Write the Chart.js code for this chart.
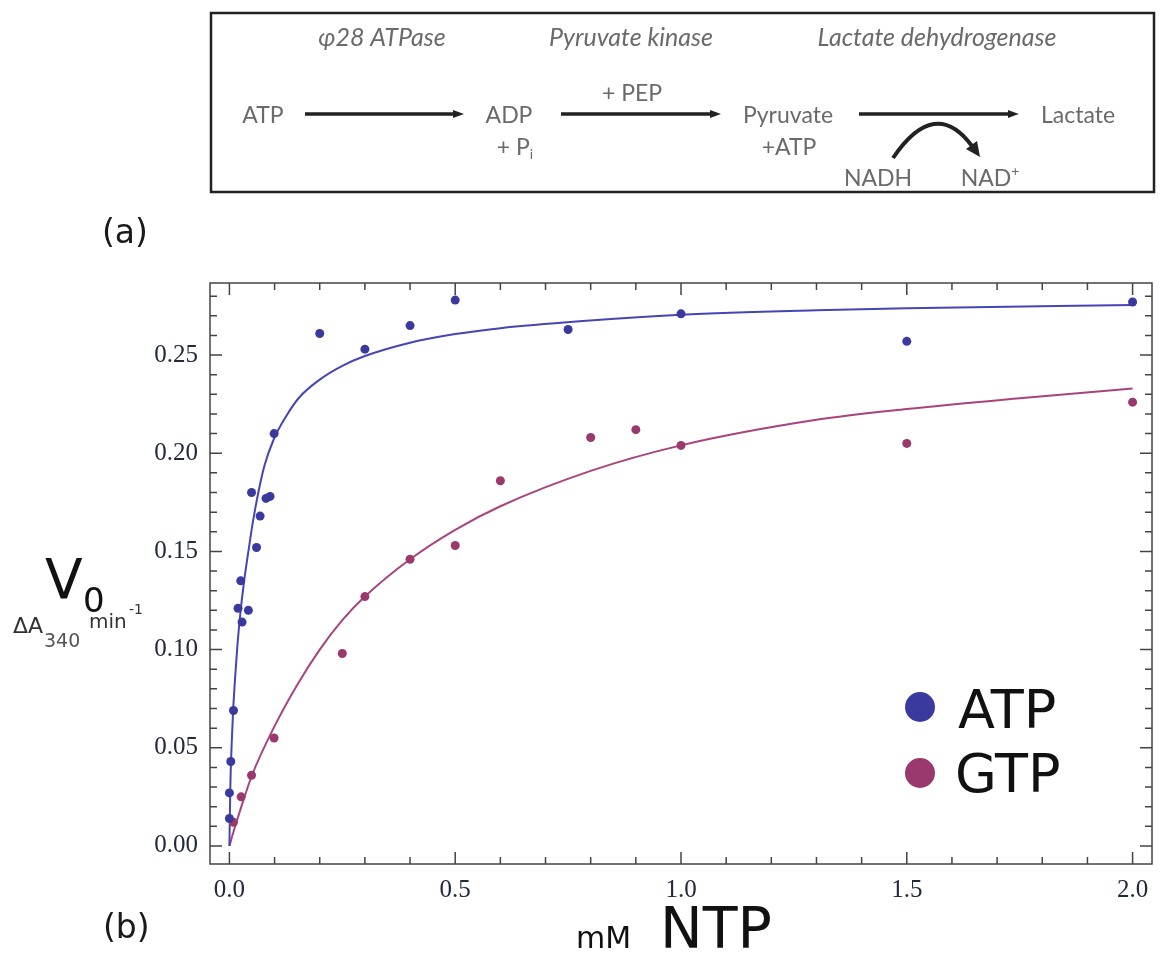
<!DOCTYPE html>
<html>
<head>
<meta charset="utf-8">
<script src="https://cdn.jsdelivr.net/npm/chart.js@4.4.0/dist/chart.umd.min.js"></script>
<style>
  html, body { margin: 0; padding: 0; background: #fff; }
  #wrap { position: relative; width: 1170px; height: 958px; overflow: hidden; }
  #kinetics { position: absolute; left: 0; top: 0; }
  #overlay { position: absolute; left: 0; top: 0; pointer-events: none; }
  .pathway text { font-family: Lato, "Open Sans", sans-serif; font-size: 23px; fill: #6a6a6a; }
  .pathway .enz { font-style: italic; font-size: 25px; }
  .lbl { font-family: "DejaVu Sans", sans-serif; fill: #1a1a1a; }
</style>
</head>
<body>
<div id="wrap">
  <canvas id="kinetics" width="1170" height="958"></canvas>
  <svg id="overlay" width="1170" height="958" xmlns="http://www.w3.org/2000/svg">
    <!-- (a) coupled assay scheme -->
    <g class="pathway">
      <rect x="211" y="13" width="943" height="179" fill="none" stroke="#222" stroke-width="2.5"/>
      <text class="enz" x="382" y="46" text-anchor="middle">φ28 ATPase</text>
      <text class="enz" x="631" y="46" text-anchor="middle">Pyruvate kinase</text>
      <text class="enz" x="937" y="46" text-anchor="middle">Lactate dehydrogenase</text>
      <text x="263" y="123" text-anchor="middle">ATP</text>
      <text x="509" y="123" text-anchor="middle">ADP</text>
      <text x="515" y="155" text-anchor="middle">+ P<tspan font-size="14" dy="4">i</tspan></text>
      <text x="632" y="101" text-anchor="middle">+ PEP</text>
      <text x="788" y="123" text-anchor="middle">Pyruvate</text>
      <text x="789" y="155" text-anchor="middle">+ATP</text>
      <text x="1078" y="123" text-anchor="middle">Lactate</text>
      <text x="878" y="186" text-anchor="middle">NADH</text>
      <text x="990" y="186" text-anchor="middle">NAD<tspan font-size="14" dy="-10">+</tspan></text>
      <g stroke="#222" stroke-width="3.5" fill="#222">
        <line x1="305" y1="114" x2="456" y2="114"/>
        <polygon points="464,114 453,110 453,118" stroke="none"/>
        <line x1="561" y1="114" x2="713" y2="114"/>
        <polygon points="721,114 710,110 710,118" stroke="none"/>
        <line x1="859" y1="114" x2="1011" y2="114"/>
        <polygon points="1019,114 1008,110 1008,118" stroke="none"/>
        <path d="M 893 158 Q 935 96 972 146" fill="none" stroke-width="4"/>
        <polygon points="980,157 966,149 977,141" stroke="none"/>
      </g>
    </g>
    <text class="lbl" x="102" y="243" font-size="33">(a)</text>
    <text class="lbl" x="103" y="938" font-size="33">(b)</text>
    <!-- axis titles -->
    <g class="lbl">
      <text x="45" y="598" font-size="55" fill="#111">V</text>
      <text x="83" y="612" font-size="34" fill="#111">0</text>
      <text x="13" y="633" font-size="22" fill="#333">ΔA</text>
      <text x="44" y="647" font-size="19" fill="#555">340</text>
      <text x="89" y="628" font-size="20" fill="#333">min</text>
      <text x="129" y="614" font-size="14" fill="#333">-1</text>
      <text x="576" y="948" font-size="30" fill="#111">mM</text>
      <text x="660" y="948" font-size="57" fill="#111">NTP</text>
    </g>
    <g id="legend"></g>
  </svg>
</div>
<script>
// measured points, mM NTP vs initial rate
const atpConc = [0, 0, 0.003, 0.009, 0.019, 0.025, 0.028, 0.042, 0.049, 0.06, 0.068, 0.081, 0.09, 0.099,
                 0.2, 0.3, 0.4, 0.5, 0.75, 1.0, 1.5, 2.0];
const atpRate = [0.014, 0.027, 0.043, 0.069, 0.121, 0.135, 0.114, 0.120, 0.180, 0.152, 0.168, 0.177, 0.178, 0.210,
                 0.261, 0.253, 0.265, 0.278, 0.263, 0.271, 0.257, 0.277];

const gtpConc = [0.009, 0.026, 0.049, 0.099, 0.25, 0.3, 0.4, 0.5, 0.6, 0.8, 0.9, 1.0, 1.5, 2.0];
const gtpRate = [0.012, 0.025, 0.036, 0.055, 0.098, 0.127, 0.146, 0.153, 0.186, 0.208, 0.212, 0.204, 0.205, 0.226];

// fitted curves
const atpFitConc = [0, 0.002, 0.005, 0.008, 0.013, 0.018, 0.024, 0.032, 0.042, 0.052, 0.064, 0.078, 0.098,
                    0.126, 0.155, 0.2, 0.25, 0.3, 0.4, 0.5, 0.6, 0.775, 1.0, 1.3, 1.5, 2.0];
const atpFitRate = [0, 0.030, 0.052, 0.068, 0.087, 0.103, 0.118, 0.134, 0.150, 0.165, 0.180, 0.194, 0.207,
                    0.219, 0.2285, 0.2375, 0.2445, 0.2495, 0.2563, 0.2607, 0.2637, 0.2672, 0.2705, 0.2728, 0.2738, 0.2755];

const gtpFitConc = [0, 0.01, 0.025, 0.05, 0.1, 0.15, 0.2, 0.25, 0.3, 0.4, 0.5, 0.6, 0.8, 1.0, 1.3, 1.5, 1.75, 2.0];
const gtpFitRate = [0, 0.008, 0.019, 0.036, 0.061, 0.082, 0.100, 0.115, 0.127, 0.146, 0.161, 0.173, 0.191,
                    0.204, 0.217, 0.2225, 0.228, 0.233];

const xTicks = [0, 0.5, 1.0, 1.5, 2.0];
const yTicks = [0, 0.05, 0.10, 0.15, 0.20, 0.25];

const seriesNames = ['ATP', 'GTP'];
const dotColors = ['#3a3a9e', '#9a396c'];
const lineColors = ['#4545b5', '#a8437e'];

const toXY = (xs, ys) => xs.map((v, i) => ({ x: v, y: ys[i] }));

// box round the plot with inward ticks on all four sides
const frameTicks = {
  id: 'frameTicks',
  afterDatasetsDraw(chart) {
    const { ctx, chartArea: a, scales: { x, y } } = chart;
    ctx.save();
    ctx.strokeStyle = '#444';
    ctx.lineWidth = 1.5;
    ctx.strokeRect(a.left, a.top, a.right - a.left, a.bottom - a.top);
    ctx.beginPath();
    for (let i = 0; i <= 20; i++) {
      const px = x.getPixelForValue(i / 10);
      const len = i % 5 === 0 ? 12 : 7;
      ctx.moveTo(px, a.bottom); ctx.lineTo(px, a.bottom - len);
      ctx.moveTo(px, a.top); ctx.lineTo(px, a.top + len);
    }
    for (let i = 0; i <= 28; i++) {
      const py = y.getPixelForValue(i / 100);
      const len = i % 5 === 0 ? 12 : 7;
      ctx.moveTo(a.left, py); ctx.lineTo(a.left + len, py);
      ctx.moveTo(a.right, py); ctx.lineTo(a.right - len, py);
    }
    ctx.stroke();
    ctx.restore();
  }
};

const tickFont = { family: '"Liberation Serif", "Times New Roman", serif', size: 25 };

const chart = new Chart(document.getElementById('kinetics'), {
  type: 'scatter',
  data: {
    datasets: [
      { label: seriesNames[0], data: toXY(atpConc, atpRate), backgroundColor: dotColors[0],
        borderWidth: 0, pointRadius: 4.5, order: 1 },
      { label: seriesNames[1], data: toXY(gtpConc, gtpRate), backgroundColor: dotColors[1],
        borderWidth: 0, pointRadius: 4.5, order: 2 },
      { label: 'ATP fit', data: toXY(atpFitConc, atpFitRate), showLine: true, pointRadius: 0,
        borderColor: lineColors[0], borderWidth: 2, cubicInterpolationMode: 'monotone', order: 3 },
      { label: 'GTP fit', data: toXY(gtpFitConc, gtpFitRate), showLine: true, pointRadius: 0,
        borderColor: lineColors[1], borderWidth: 2, cubicInterpolationMode: 'monotone', order: 4 }
    ]
  },
  options: {
    responsive: false,
    animation: false,
    events: [],
    layout: { padding: { left: 150, right: 18, top: 283, bottom: 54 } },
    plugins: { legend: { display: false }, tooltip: { enabled: false } },
    scales: {
      x: {
        type: 'linear', min: -0.043, max: 2.043,
        grid: { display: false, drawTicks: false },
        border: { display: false },
        afterBuildTicks: s => { s.ticks = xTicks.map(v => ({ value: v })); },
        afterFit: s => { s.height = 40; },
        ticks: { padding: 11, font: tickFont, color: '#222a3a', maxRotation: 0, autoSkip: false,
                 callback: v => Number(v).toFixed(1) }
      },
      y: {
        type: 'linear', min: -0.0092, max: 0.2867,
        grid: { display: false, drawTicks: false },
        border: { display: false },
        afterBuildTicks: s => { s.ticks = yTicks.map(v => ({ value: v })); },
        afterFit: s => { s.width = 60; },
        ticks: { padding: 12, font: tickFont, color: '#222a3a', autoSkip: false,
                 callback: v => Number(v).toFixed(2) }
      }
    }
  },
  plugins: [frameTicks]
});

// legend inside the plot, built from the dataset labels and colours
const legendPos = [{ cx: 920, cy: 707, tx: 958, ty: 728 }, { cx: 920, cy: 773, tx: 955, ty: 792 }];
const svgNS = 'http://www.w3.org/2000/svg';
const legend = document.getElementById('legend');
chart.data.datasets.slice(0, 2).forEach((ds, i) => {
  const p = legendPos[i];
  const dot = document.createElementNS(svgNS, 'circle');
  dot.setAttribute('cx', p.cx); dot.setAttribute('cy', p.cy); dot.setAttribute('r', 15);
  dot.setAttribute('fill', ds.backgroundColor);
  const t = document.createElementNS(svgNS, 'text');
  t.setAttribute('x', p.tx); t.setAttribute('y', p.ty);
  t.setAttribute('font-family', '"DejaVu Sans", sans-serif');
  t.setAttribute('font-size', 54); t.setAttribute('fill', '#111');
  t.textContent = ds.label;
  legend.appendChild(dot); legend.appendChild(t);
});
</script>
</body>
</html>
